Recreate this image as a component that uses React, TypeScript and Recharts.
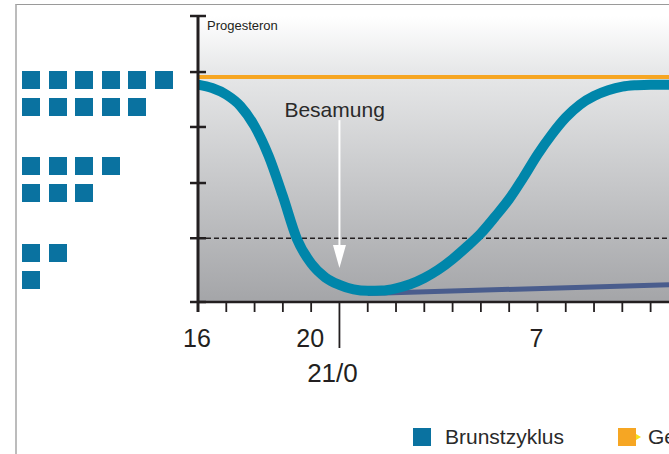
import { Line, LineChart, ReferenceArea, ReferenceLine, XAxis, YAxis } from 'recharts'

// day positions: 0 = day 16, 5 = day 21/0 (start of cycle), 12 = day 7
const xTicks = [0, 1, 2, 3, 4, 5, 6, 7, 8, 9, 10, 11, 12, 13, 14, 15, 16]
const xLabels: Record<number, string> = { 0: '16', 4: '20', 12: '7' }
const cycleStartTick = 5
const cycleStartLabel = '21/0'
const xMax = 16.65

const yTicks = [0, 22.3, 41.6, 61.2, 80.4, 100]
const threshold = 22.3

const brunstX = [0, 0.5, 1, 1.5, 2, 2.5, 3, 3.5, 4, 4.5, 5, 5.5, 6, 6.5, 7, 7.5, 8, 8.5, 9, 9.5, 10, 10.5, 11, 11.5, 12, 12.5, 13, 13.5, 14, 14.5, 15, 15.5, 16, 16.65]
const brunstY = [76, 74.8, 72.5, 68.5, 61.5, 51, 37, 22, 13.5, 8.6, 6, 4.4, 3.9, 4.0, 4.8, 6.2, 8.4, 11.3, 15, 19.3, 24, 29.8, 36, 43.5, 51.5, 58.5, 64.5, 69, 72, 74, 75.3, 75.8, 76, 76]

const gestagenX = [0, xMax]
const gestagenY = [78.7, 78.7]

const lowLineX = [6, xMax]
const lowLineY = [3.0, 6.0]

const iconRows = [6, 5, 4, 3, 2, 1]

const besamungDay = 5
const besamungFrom = 63.6
const besamungTo = 11.9

const brunstData = brunstX.map((x, i) => ({ x, v: brunstY[i] }))
const gestagenData = gestagenX.map((x, i) => ({ x, v: gestagenY[i] }))
const lowLineData = lowLineX.map((x, i) => ({ x, v: lowLineY[i] }))

const INK = '#231f20'
const TEAL = '#0086aa'
const ICON = '#0a72a0'
const ORANGE = '#f6a623'
const FONT = '"Liberation Sans", Arial, sans-serif'

function YTick({ x, y }: any) {
  return <line x1={x - 8} x2={x + 8} y1={y} y2={y} stroke={INK} strokeWidth={2.5} />
}

function XTick({ x, y, payload }: any) {
  const v = payload.value
  const isStart = v === cycleStartTick
  return (
    <g>
      <line
        x1={x}
        x2={x}
        y1={y}
        y2={y + (isStart ? 46 : 10)}
        stroke={INK}
        strokeWidth={v === 0 ? 3 : 1.8}
      />
      {xLabels[v] && (
        <text x={x - 1} y={y + 45} textAnchor="middle" fontSize={25} fill={INK} fontFamily={FONT}>
          {xLabels[v]}
        </text>
      )}
      {isStart && (
        <text x={x - 7} y={y + 80} textAnchor="middle" fontSize={26} fill={INK} fontFamily={FONT}>
          {cycleStartLabel}
        </text>
      )}
    </g>
  )
}

function Arrow({ x1, y1, x2, y2 }: any) {
  return (
    <g>
      <text x={x1 - 55} y={y1 - 3} fontSize={21} fill="#2a2a2a" fontFamily={FONT}>
        Besamung
      </text>
      <line x1={x1} x2={x2} y1={y1} y2={y2 - 22} stroke="#fff" strokeWidth={2} />
      <polygon points={`${x2 - 6.5},${y2 - 23} ${x2 + 6.5},${y2 - 23} ${x2},${y2}`} fill="#fff" />
    </g>
  )
}

export default function App() {
  return (
    <div style={{ position: 'absolute', left: 0, top: 0, width: 669, height: 454, overflow: 'hidden', background: '#fff', fontFamily: FONT }}>
      <div
        style={{
          position: 'absolute',
          left: 15,
          top: 4,
          width: 700,
          height: 500,
          borderTop: '1.5px solid #9a9a9a',
          borderLeft: '2px solid #bcbcbc',
        }}
      />
      <div style={{ position: 'absolute', left: 22, top: 71 }}>
        {iconRows.map((n, r) => (
          <div key={r} style={{ display: 'flex', gap: 8.6, marginBottom: r % 2 === 0 ? 9 : r === 1 ? 41 : 42 }}>
            {Array.from({ length: n }).map((_, i) => (
              <span key={i} style={{ width: 18, height: 18, background: ICON, display: 'block' }} />
            ))}
          </div>
        ))}
      </div>
      <LineChart
        width={669}
        height={454}
        margin={{ top: 16, right: 0, bottom: 122, left: 138 }}
        style={{ position: 'absolute', left: 0, top: 0 }}
      >
        <defs>
          <linearGradient id="bg" x1="0" y1="0" x2="0" y2="1">
            <stop offset="0%" stopColor="#ffffff" />
            <stop offset="18%" stopColor="#e8e9ea" />
            <stop offset="100%" stopColor="#a4a5a8" />
          </linearGradient>
        </defs>
        <ReferenceArea x1={0} x2={xMax} y1={0} y2={100} fill="url(#bg)" fillOpacity={1} stroke="none" />
        <ReferenceLine y={threshold} stroke={INK} strokeWidth={1.6} strokeDasharray="5 3" />
        <XAxis
          dataKey="x"
          type="number"
          domain={[0, xMax]}
          ticks={xTicks}
          interval={0}
          allowDataOverflow
          height={30}
          tickSize={0}
          tickMargin={0}
          tick={<XTick />}
          tickLine={false}
          axisLine={{ stroke: INK, strokeWidth: 2.5 }}
        />
        <YAxis
          type="number"
          domain={[0, 100]}
          ticks={yTicks}
          interval={0}
          width={60}
          tickSize={0}
          tickMargin={0}
          tick={<YTick />}
          tickLine={false}
          axisLine={{ stroke: INK, strokeWidth: 3 }}
        />
        <Line
          data={lowLineData}
          dataKey="v"
          type="linear"
          stroke="#4a5d8d"
          strokeWidth={5}
          dot={false}
          isAnimationActive={false}
        />
        <Line
          data={gestagenData}
          dataKey="v"
          type="linear"
          stroke={ORANGE}
          strokeWidth={4}
          dot={false}
          isAnimationActive={false}
        />
        <Line
          data={brunstData}
          dataKey="v"
          type="monotone"
          stroke={TEAL}
          strokeWidth={10}
          dot={false}
          isAnimationActive={false}
        />
        <ReferenceLine
          segment={[
            { x: besamungDay, y: besamungFrom },
            { x: besamungDay, y: besamungTo },
          ]}
          shape={<Arrow />}
        />
      </LineChart>
      <div style={{ position: 'absolute', left: 207, top: 19, fontSize: 13, lineHeight: '13px', color: INK }}>
        Progesteron
      </div>
      <div style={{ position: 'absolute', left: 413, top: 426, display: 'flex', alignItems: 'center', whiteSpace: 'nowrap', fontSize: 21, lineHeight: '21px', color: '#2a2a2a' }}>
        <span style={{ width: 18, height: 18, background: ICON, display: 'block', marginRight: 14 }} />
        <span style={{ width: 173 }}>Brunstzyklus</span>
        <span style={{ width: 18, height: 18, background: ORANGE, display: 'block' }} />
        <span style={{ width: 0, height: 0, borderTop: '3px solid transparent', borderBottom: '3px solid transparent', borderLeft: '5px solid #f7e11b', marginRight: 7 }} />
        <span>Gestagen</span>
      </div>
    </div>
  )
}
